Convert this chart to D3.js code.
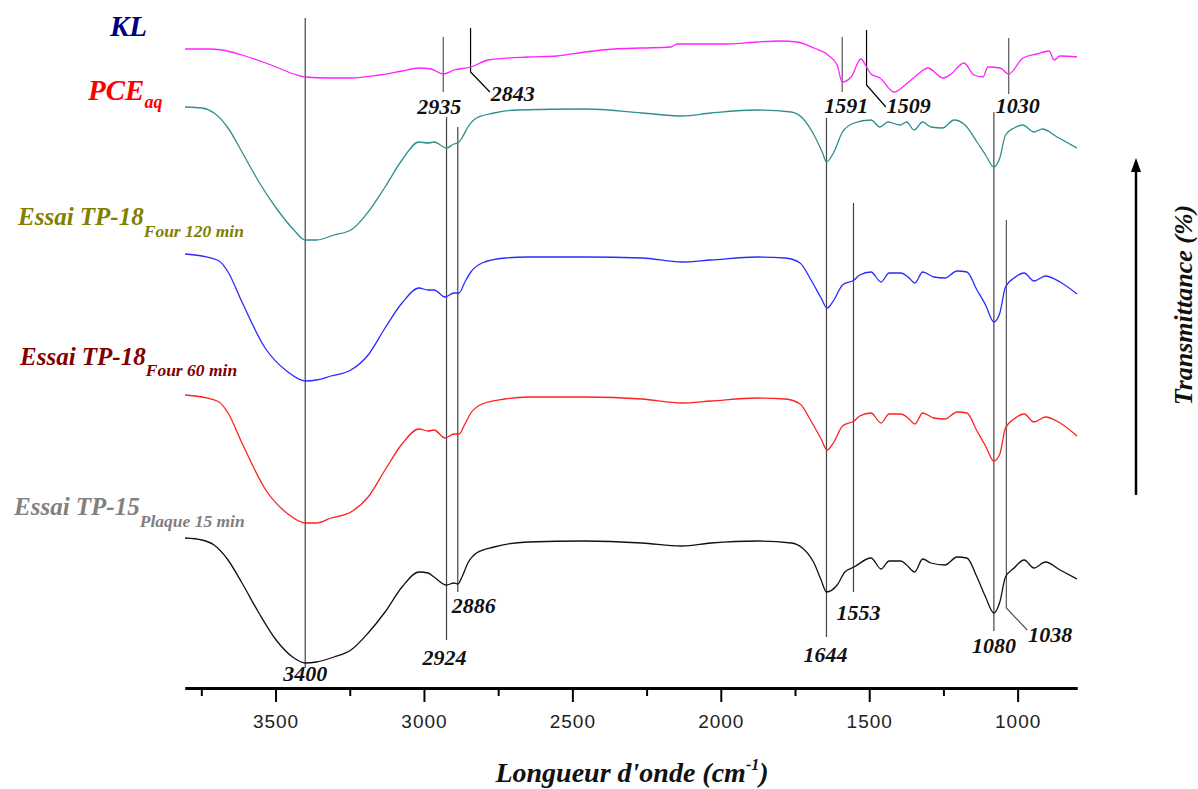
<!DOCTYPE html>
<html><head><meta charset="utf-8">
<script src="https://cdn.jsdelivr.net/npm/d3@7"></script>
<style>body{margin:0;background:#fff}svg{display:block}</style>
</head><body>
<svg id="chart" width="1198" height="789"></svg>
<script>
// ---- data (wavenumber cm-1, transmittance in arbitrary stacked units) ----
const klWn = [3805,3728,3680,3613,3515,3438,3400,3323,3246,3151,3074,3017,2976,2935,2899,2841,2784,2650,2552,2457,2360,2265,2168,2147,1976,1878,1800,1743,1686,1639,1608,1591,1561,1528,1507,1494,1464,1416,1379,1339,1302,1251,1224,1181,1147,1117,1100,1059,1030,982,935,894,877,857,800];
const klT  = [651,651,650,645,635,626,623,622,622,625,629,632,631,626,630,633,640,643,644,648,651,652,653,656,656,658,659,658,652,645,635,618,623,641,632,626,622,608,615,625,632,622,626,637,625,623,633,632,626,642,646,649,640,644,643];

const pceWn = [3805,3748,3707,3660,3613,3556,3498,3438,3400,3362,3303,3246,3188,3131,3074,3017,2986,2966,2924,2899,2886,2872,2852,2823,2764,2687,2457,2265,2131,2033,1878,1763,1725,1686,1657,1644,1619,1590,1551,1494,1464,1437,1396,1374,1349,1320,1292,1253,1214,1177,1137,1108,1080,1060,1041,1012,983,945,916,867,800];
const pceT  = [593,592,587,572,548,518,492,470,460,460,465,470,488,513,540,558,557,558,552,556,557,562,573,582,587,590,591,587,584,587,590,588,582,565,547,538,548,568,577,580,573,578,575,578,570,578,573,572,580,575,558,545,533,542,565,572,575,568,571,563,552];

const tp120Wn = [3805,3748,3690,3660,3613,3535,3458,3400,3362,3313,3246,3188,3131,3074,3017,2986,2966,2929,2899,2882,2862,2842,2804,2727,2650,2457,2265,2131,2033,1878,1784,1733,1696,1662,1642,1619,1590,1551,1532,1494,1460,1433,1393,1369,1346,1320,1282,1245,1204,1171,1137,1108,1080,1060,1041,1012,978,945,906,857,800];
const tp120T  = [446,444,439,428,398,352,328,319,320,324,330,345,372,397,412,410,410,403,407,407,418,428,437,442,443,443,442,438,440,443,442,437,420,402,392,400,415,420,425,428,418,427,427,423,417,428,423,422,429,428,410,395,378,387,413,422,427,419,424,418,406];

const tp60Wn = [3805,3748,3690,3660,3613,3535,3458,3400,3362,3313,3246,3188,3131,3074,3017,2986,2966,2929,2899,2882,2862,2842,2804,2727,2650,2457,2265,2131,2033,1878,1784,1733,1696,1662,1642,1619,1590,1551,1532,1494,1460,1433,1393,1369,1346,1320,1282,1245,1204,1171,1137,1108,1080,1060,1041,1012,978,945,906,857,800];
const tp60T  = [305,303,298,287,257,211,186,177,177,182,188,203,230,256,271,269,270,262,266,266,276,287,296,301,303,303,301,297,299,302,301,296,279,261,250,258,274,279,284,287,277,286,286,282,276,287,282,281,288,287,269,254,239,246,272,281,286,278,283,277,264];

const tp15Wn = [3805,3748,3707,3660,3613,3556,3498,3438,3400,3362,3303,3246,3188,3131,3074,3017,2986,2966,2924,2899,2886,2872,2852,2823,2764,2650,2457,2265,2131,2033,1878,1763,1725,1686,1662,1644,1608,1582,1551,1494,1460,1433,1393,1374,1347,1320,1292,1245,1204,1171,1137,1108,1080,1060,1041,1012,978,945,906,857,800];
const tp15T  = [162,160,155,140,117,87,60,42,37,38,43,50,67,88,113,128,127,123,115,117,116,123,137,147,153,158,159,157,154,157,159,157,152,137,120,108,115,128,133,142,131,139,139,135,128,141,137,135,143,142,123,103,87,98,123,132,140,132,138,130,121];

const seriesNames  = ["KL", "PCE", "TP-18 120", "TP-18 60", "TP-15"];
const majorTicks = [3500, 3000, 2500, 2000, 1500, 1000];
const minorTicks = [3750, 3250, 2750, 2250, 1750, 1250];

// peak annotations: wavenumber, label, line top/bottom (transmittance units)
const peakWn    = [3400, 2935, 2843, 1591, 1509, 1030, 2924, 2886, 1644, 1553, 1080, 1038];
const peakLabel = ["3400","2935","2843","1591","1509","1030","2924","2886","1644","1553","1080","1038"];
const peakTop   = [682, 663, 672, 663, 670, 662, 583, 573, 582, 497, 588, 480];
const peakBot   = [32, 608, 628, 608, 615, 606, 60, 108, 63, 108, 69, 92];

// ---- layout / style ----
const svg = d3.select("#chart");
const x = d3.scaleLinear().domain([3805, 800]).range([185, 1077]);
const y = d3.scaleLinear().domain([0, 700]).range([700, 0]);
const serif = "'Liberation Serif','Times New Roman',serif";

const series = [
  {wn: klWn, t: klT, color: "#ff22ff"},
  {wn: pceWn, t: pceT, color: "#2f8f8f"},
  {wn: tp120Wn, t: tp120T, color: "#2a2aff"},
  {wn: tp60Wn, t: tp60T, color: "#ff2020"},
  {wn: tp15Wn, t: tp15T, color: "#111111"}
];

// annotation geometry (label placement relative to the line)
const peakStyle = [
  {lw:"#444", lx:0,   ly:19,  anchor:"middle"},
  {lw:"#555", lx:-4,  ly:586, anchor:"middle"},
  {lw:"#000", lx:null, ly:599, anchor:"start", leader:[2778, 608]},
  {lw:"#555", lx:4,   ly:587, anchor:"middle"},
  {lw:"#000", lx:null, ly:587, anchor:"start", leader:[1444, 593]},
  {lw:"#555", lx:9,   ly:587, anchor:"middle"},
  {lw:"#444", lx:-2,  ly:35,  anchor:"middle"},
  {lw:"#444", lx:16,  ly:87,  anchor:"middle"},
  {lw:"#444", lx:-1,  ly:38,  anchor:"middle"},
  {lw:"#444", lx:5,   ly:80,  anchor:"middle"},
  {lw:"#444", lx:0,   ly:47,  anchor:"middle"},
  {lw:"#555", lx:null, ly:58, anchor:"start", leader:[968, 70]}
];

// peak lines
const ann = svg.append("g");
peakWn.forEach((wn, i) => {
  const st = peakStyle[i];
  const pts = [[x(wn), y(peakTop[i])], [x(wn), y(peakBot[i])]];
  if (st.leader) pts.push([x(st.leader[0]), y(st.leader[1])]);
  ann.append("path").attr("d", d3.line()(pts))
    .attr("fill", "none").attr("stroke", st.lw).attr("stroke-width", 1.2);
  const tx = st.leader ? x(st.leader[0]) + 1 : x(wn) + st.lx;
  ann.append("text").attr("x", tx).attr("y", y(st.ly))
    .attr("text-anchor", st.anchor)
    .attr("font-family", serif).attr("font-weight", "bold").attr("font-style", "italic")
    .attr("font-size", 22).attr("fill", "#111").text(peakLabel[i]);
});

// spectra
const line = d3.line().x(d => x(d[0])).y(d => y(d[1])).curve(d3.curveMonotoneX);
series.forEach(s => {
  svg.append("path").datum(s.wn.map((w, i) => [w, s.t[i]]))
    .attr("d", line).attr("fill", "none")
    .attr("stroke", s.color).attr("stroke-width", 1.3);
});

// x axis
const axY = 688;
const gMinor = svg.append("g").attr("transform", `translate(0,${axY})`)
  .call(d3.axisBottom(x).tickValues(minorTicks).tickSize(8).tickSizeOuter(0).tickFormat(""));
const gMajor = svg.append("g").attr("transform", `translate(0,${axY})`)
  .call(d3.axisBottom(x).tickValues(majorTicks).tickSize(14).tickPadding(13).tickSizeOuter(0).tickFormat(d3.format("d")));
[gMinor, gMajor].forEach(g => {
  g.select(".domain").attr("stroke", "#000").attr("stroke-width", 3);
  g.selectAll(".tick line").attr("stroke", "#000").attr("stroke-width", 2);
});
gMajor.selectAll(".tick text").attr("font-family", "'Liberation Sans',Arial,sans-serif")
  .attr("font-size", 19).attr("fill", "#222").attr("letter-spacing", 1);

// x axis title
const xt = svg.append("text").attr("x", 632).attr("y", 782).attr("text-anchor", "middle")
  .attr("font-family", serif).attr("font-weight", "bold").attr("font-style", "italic")
  .attr("font-size", 28).attr("fill", "#111");
xt.append("tspan").text("Longueur d'onde (cm");
xt.append("tspan").attr("font-size", 16).attr("dy", -12).text("-1");
xt.append("tspan").attr("dy", 12).text(")");

// right: arrow + Transmittance label
svg.append("line").attr("x1", 1136).attr("x2", 1136).attr("y1", 495).attr("y2", 170)
  .attr("stroke", "#000").attr("stroke-width", 2.5);
svg.append("path").attr("d", d3.line()([[1131, 172], [1136, 158], [1141, 172]]) + "Z").attr("fill", "#000");
svg.append("text").attr("transform", "translate(1192,305) rotate(-90)")
  .attr("text-anchor", "middle").attr("font-family", serif).attr("font-weight", "bold")
  .attr("font-style", "italic").attr("font-size", 26).attr("fill", "#111").text("Transmittance (%)");

// left labels
const labels = [
  {main: "KL", sub: "", color: "#000080", x: 110, y: 36, size: 29, subSize: 17, subDy: 0},
  {main: "PCE", sub: "aq", color: "#ff0000", x: 88, y: 100, size: 29, subSize: 18, subDy: 8},
  {main: "Essai TP-18", sub: "Four 120 min", color: "#808000", x: 18, y: 225, size: 25, subSize: 17.5, subDy: 12},
  {main: "Essai TP-18", sub: "Four 60 min", color: "#800000", x: 20, y: 365, size: 25, subSize: 17.5, subDy: 11},
  {main: "Essai TP-15", sub: "Plaque 15 min", color: "#808080", x: 14, y: 515, size: 25, subSize: 17.5, subDy: 12}
];
labels.forEach((l, i) => {
  const t = svg.append("text").attr("x", l.x).attr("y", l.y)
    .attr("font-family", serif).attr("font-weight", "bold").attr("font-style", "italic")
    .attr("fill", l.color).attr("font-size", l.size).attr("data-series", seriesNames[i]);
  t.append("tspan").text(l.main);
  if (l.sub) t.append("tspan").attr("font-size", l.subSize).attr("dy", l.subDy).text(l.sub);
});
</script>
</body></html>
